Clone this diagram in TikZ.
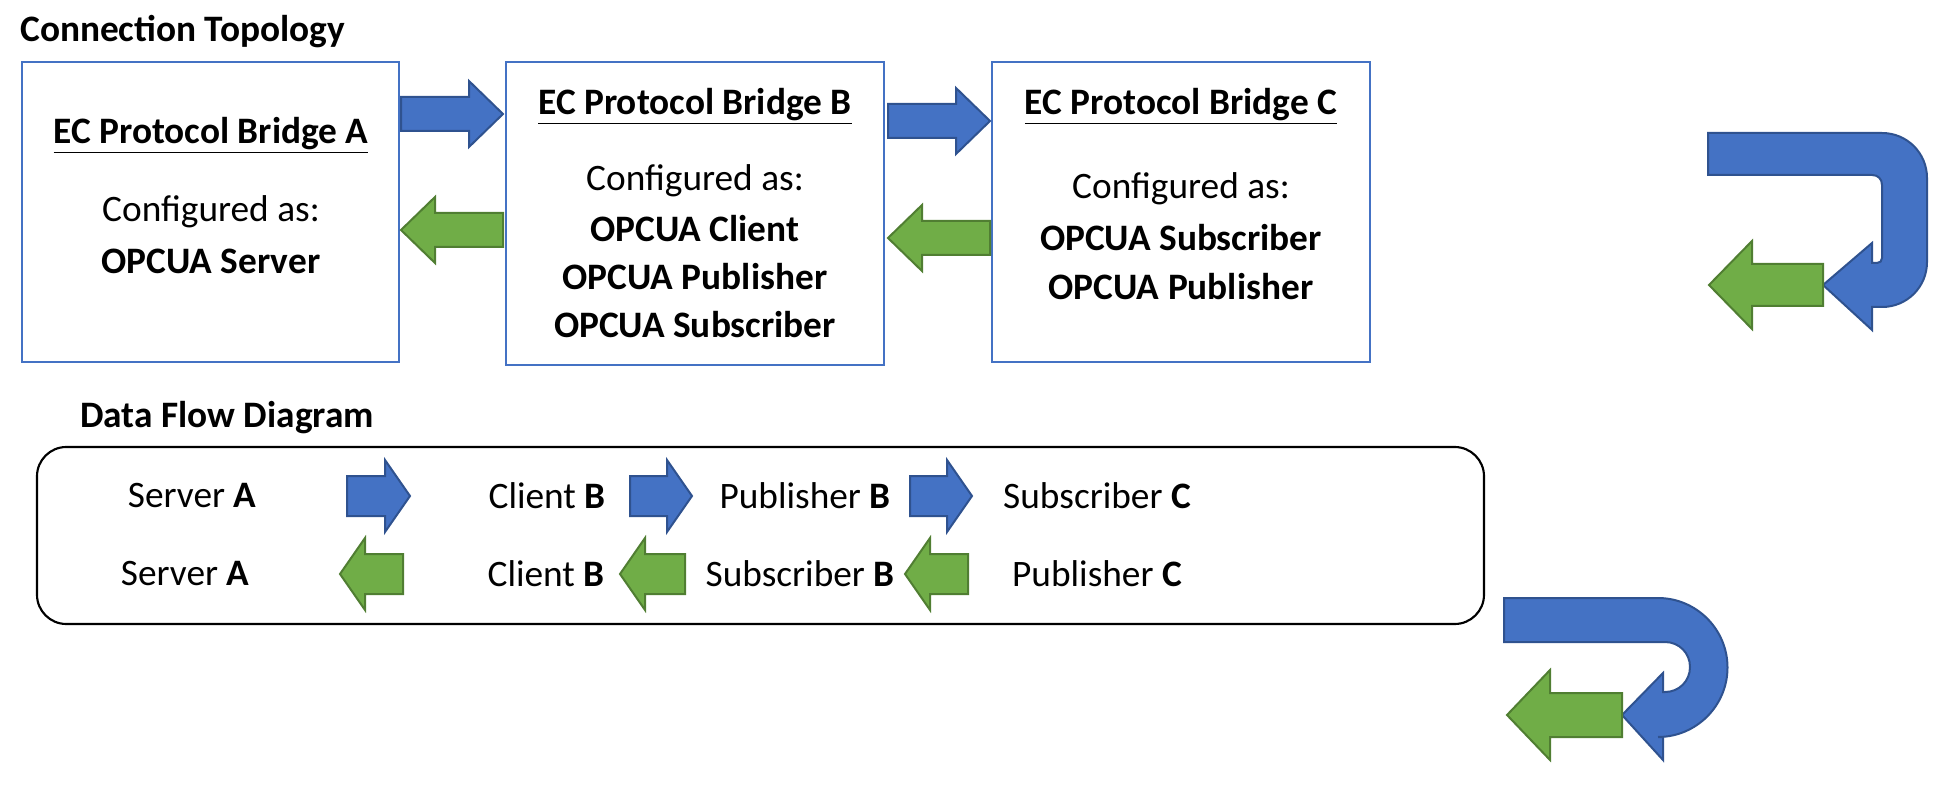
\documentclass[tikz,border=0pt]{standalone}
\usepackage{fontspec}
\setmainfont{Carlito}
\definecolor{bfill}{HTML}{4472C4}
\definecolor{bline}{HTML}{2F528F}
\definecolor{gfill}{HTML}{70AD47}
\definecolor{gline}{HTML}{507E32}
% right arrow: x1 (tail), x2 (tip), yc, half shaft, half head, head length
\newcommand\myRarrow[7]{\draw[#7] (#1,#3-#4) -- (#2-#6,#3-#4) -- (#2-#6,#3-#5) -- (#2,#3) -- (#2-#6,#3+#5) -- (#2-#6,#3+#4) -- (#1,#3+#4) -- cycle;}
\begin{document}
\begin{tikzpicture}[x=0.75pt,y=-0.75pt,
  blu/.style={fill=bfill,draw=bline,line width=1.5pt,line join=miter},
  grn/.style={fill=gfill,draw=gline,line width=1.5pt,line join=miter},
  box/.style={draw=bfill,line width=2.2pt,fill=white},
  t/.style={font=\fontsize{28}{33}\selectfont,inner sep=0pt},
  tb/.style={t,font=\fontsize{28}{33}\selectfont\bfseries},
  title/.style={font=\fontsize{28}{33}\selectfont\bfseries,anchor=west,inner sep=0pt}]
\useasboundingbox (0,0) rectangle (1952,805);
\node[title] (t1) at (20,32) {Connection Topology};
\draw[box] (22,62) rectangle (399,362);
\draw[box] (506,62) rectangle (884,365);
\draw[box] (992,62) rectangle (1370,362);
\node[tb] (ta) at (211,135) {\underline{EC Protocol Bridge A}};
\node[t] (ca) at (211,212) {Configured as:};
\node[tb] (ra) at (211,261) {OPCUA Server};
\node[tb] (tbb) at (695,106) {\underline{EC Protocol Bridge B}};
\node[t] (cb) at (695,181) {Configured as:};
\node[tb] (rb1) at (695,229) {OPCUA Client};
\node[tb] (rb2) at (695,277) {OPCUA Publisher};
\node[tb] (rb3) at (695,325) {OPCUA Subscriber};
\node[tb] (tc) at (1181,106) {\underline{EC Protocol Bridge C}};
\node[t] (cc) at (1181,189) {Configured as:};
\node[tb] (rc1) at (1181,238) {OPCUA Subscriber};
\node[tb] (rc2) at (1181,287) {OPCUA Publisher};
\myRarrow{401}{503}{114}{17}{33}{34}{blu}
\myRarrow{888}{990}{121}{17}{33}{34}{blu}
\myRarrow{503}{401}{230}{17}{33}{-34}{grn}
\myRarrow{990}{888}{238}{17}{33}{-34}{grn}
% U arrow top
\draw[blu] (1708,133) -- (1882,133) .. controls (1907,133) and (1927,153) .. (1927,178) -- (1927,262) .. controls (1927,287) and (1907,307) .. (1882,307) -- (1872,307) -- (1872,330) -- (1823,285) -- (1872,243) -- (1872,263) -- (1877,263) .. controls (1880,263) and (1882,261) .. (1882,258) -- (1882,185) .. controls (1882,179) and (1878,175) .. (1872,175) -- (1708,175) -- cycle;
\myRarrow{1823}{1709}{285}{21}{44}{-43}{grn}
% data flow
\node[title] (t2) at (80,418) {Data Flow Diagram};
\draw[line width=1.6pt,rounded corners=22pt] (37,447) rectangle (1484,624);
\node[t] (s1) at (192,496) {Server \textbf{A}};
\node[t] (s2) at (547,496) {Client \textbf{B}};
\node[t] (s3) at (805,496) {Publisher \textbf{B}};
\node[t] (s4) at (1097,496) {Subscriber \textbf{C}};
\node[t] (u1) at (185,574) {Server \textbf{A}};
\node[t] (u2) at (546,574) {Client \textbf{B}};
\node[t] (u3) at (800,574) {Subscriber \textbf{B}};
\node[t] (u4) at (1097,574) {Publisher \textbf{C}};
\myRarrow{347}{410}{496}{20}{36}{25}{blu}
\myRarrow{630}{692}{496}{20}{36}{25}{blu}
\myRarrow{910}{972}{496}{20}{36}{25}{blu}
\myRarrow{403}{340}{574}{20}{36}{-25}{grn}
\myRarrow{685}{620}{574}{20}{36}{-25}{grn}
\myRarrow{968}{905}{574}{20}{36}{-25}{grn}
\draw[blu] (1504,598) -- (1658,598) .. controls (1696,598) and (1727.5,629) .. (1727.5,667.5) .. controls (1727.5,706) and (1696,737) .. (1658,737) -- (1663,737) -- (1663,760) -- (1622,715) -- (1663,673) -- (1663,692) -- (1665,692) .. controls (1679,692) and (1690,681) .. (1690,667) .. controls (1690,653) and (1679,642) .. (1665,642) -- (1504,642) -- cycle;
\myRarrow{1622}{1507}{715}{22}{45}{-43}{grn}
\end{tikzpicture}
\end{document}
